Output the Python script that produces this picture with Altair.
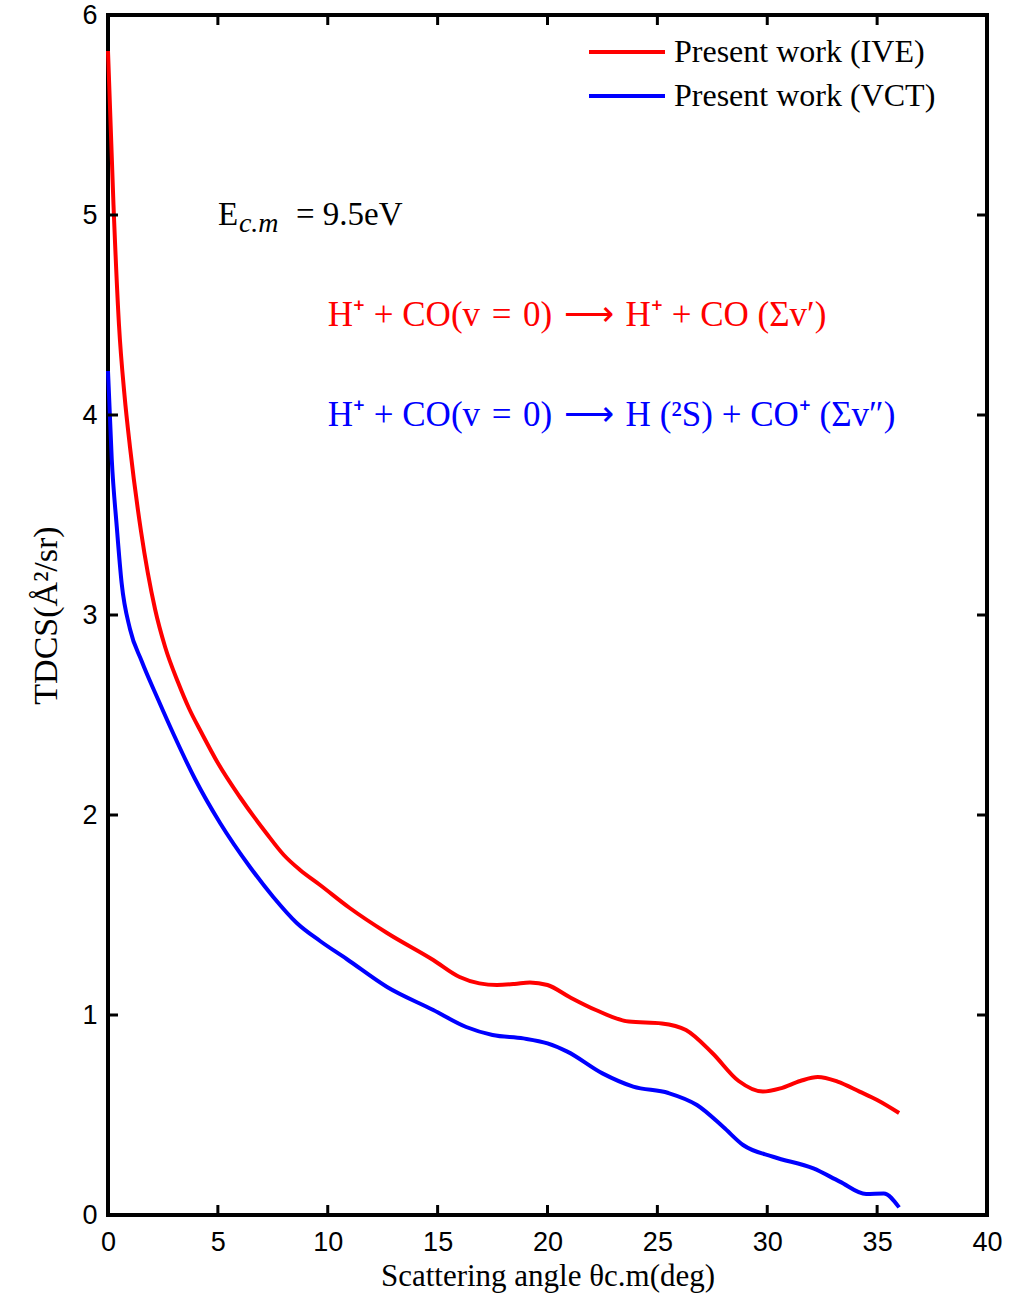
import altair as alt
import pandas as pd

# ---- data ----
ive_theta = [0, 0.25, 0.5, 0.75, 1.0, 1.5, 2.14, 2.6, 3.2, 3.7, 4.26, 5.0, 6.0, 7.2, 8.0, 8.74,
             9.65, 11.0, 12.7, 14.8, 16.0, 16.9, 17.7, 18.5, 19.2, 20.0, 21.0, 22.2, 23.7,
             25.2, 26.3, 27.5, 28.7, 29.8, 30.6, 31.5, 32.3, 33.2, 34.2, 35.0, 36.0]
ive_tdcs = [5.82, 5.05, 4.45, 4.10, 3.84, 3.42, 3.03, 2.84, 2.66, 2.53, 2.41, 2.26, 2.09, 1.91,
            1.80, 1.725, 1.65, 1.535, 1.41, 1.275, 1.19, 1.158, 1.15, 1.155, 1.163, 1.15, 1.09,
            1.025, 0.967, 0.958, 0.925, 0.81, 0.67, 0.617, 0.633, 0.67, 0.69, 0.667, 0.617,
            0.575, 0.51]

vct_theta = [0, 0.17, 0.4, 0.62, 1.0, 1.53, 2.29, 3.0, 3.96, 5.1, 6.46, 7.52, 8.59, 9.65,
             10.86, 12.7, 14.8, 16.3, 17.5, 18.9, 20.0, 20.9, 22.5, 23.9, 25.5, 26.8, 28.0,
             28.9, 30.3, 32.1, 33.3, 34.5, 35.3, 36.0]
vct_tdcs = [4.22, 3.78, 3.44, 3.16, 2.93, 2.77, 2.575, 2.40, 2.18, 1.96, 1.74, 1.59, 1.46,
            1.37, 1.28, 1.14, 1.025, 0.94, 0.90, 0.883, 0.858, 0.817, 0.708, 0.642, 0.61,
            0.55, 0.44, 0.35, 0.29, 0.233, 0.167, 0.105, 0.108, 0.038]

series_names = ["Present work (IVE)", "Present work (VCT)"]
series_colors = ["#ff0000", "#0000ff"]

x_ticks = [5, 10, 15, 20, 25, 30, 35]
y_ticks = [1, 2, 3, 4, 5]

W, H = 879, 1200
SERIF = "Liberation Serif"
SANS = "Liberation Sans"
SP = "\u2004"  # three-per-em space, to mimic TeX math spacing

df = pd.concat([
    pd.DataFrame({"theta": ive_theta, "tdcs": ive_tdcs, "series": series_names[0]}),
    pd.DataFrame({"theta": vct_theta, "tdcs": vct_tdcs, "series": series_names[1]}),
])

xscale = alt.Scale(domain=[0, 40], nice=False, zero=False)
yscale = alt.Scale(domain=[0, 6], nice=False, zero=False)

xaxis = alt.Axis(values=[0, 5, 10, 15, 20, 25, 30, 35, 40], format="d", grid=False, domain=False,
                 ticks=False, labelFont=SANS, labelFontSize=27, labelColor="black",
                 labelPadding=14, labelFlush=False,
                 title="Scattering angle θc.m(deg)", titleFont=SERIF, titleFontSize=31,
                 titleFontWeight="normal", titleColor="black", titlePadding=6)
yaxis = alt.Axis(values=[0, 1, 2, 3, 4, 5, 6], format="d", grid=False, domain=False,
                 ticks=False, labelFont=SANS, labelFontSize=27, labelColor="black",
                 labelPadding=11, labelFlush=False,
                 title="TDCS(Å²/sr)", titleFont=SERIF, titleFontSize=34,
                 titleFontWeight="normal", titleColor="black", titlePadding=18)

lines = alt.Chart(df).mark_line(strokeWidth=4, interpolate="monotone").encode(
    x=alt.X("theta:Q", scale=xscale, axis=xaxis),
    y=alt.Y("tdcs:Q", scale=yscale, axis=yaxis),
    color=alt.Color("series:N",
                    scale=alt.Scale(domain=series_names, range=series_colors),
                    legend=alt.Legend(title=None, orient="none", legendX=479, legendY=20,
                                      symbolType="stroke", symbolSize=5776,
                                      symbolStrokeWidth=4, clipHeight=34, rowPadding=10,
                                      labelFont=SERIF, labelFontSize=32, labelColor="black",
                                      labelOffset=7, padding=0, labelLimit=400)),
)

xt = pd.DataFrame({"t": x_ticks})
yt = pd.DataFrame({"t": y_ticks})
tick_bottom = alt.Chart(xt).mark_rule(color="black", strokeWidth=3).encode(
    x=alt.X("t:Q", scale=xscale), y=alt.value(H), y2=alt.value(H - 10))
tick_top = alt.Chart(xt).mark_rule(color="black", strokeWidth=3).encode(
    x=alt.X("t:Q", scale=xscale), y=alt.value(0), y2=alt.value(10))
tick_left = alt.Chart(yt).mark_rule(color="black", strokeWidth=3).encode(
    y=alt.Y("t:Q", scale=yscale), x=alt.value(0), x2=alt.value(10))
tick_right = alt.Chart(yt).mark_rule(color="black", strokeWidth=3).encode(
    y=alt.Y("t:Q", scale=yscale), x=alt.value(W), x2=alt.value(W - 10))

# annotations
energy_parts = pd.DataFrame({
    "theta": [5.0, 5.0, 5.0], "tdcs": [5.0, 5.0, 5.0],
    "txt": ["E", "c.m", "= 9.5eV"],
})
e_main = alt.Chart(energy_parts.iloc[[0]]).mark_text(
    align="left", baseline="middle", font=SERIF, fontSize=33, color="black").encode(
    x=alt.X("theta:Q", scale=xscale), y=alt.Y("tdcs:Q", scale=yscale), text="txt:N")
e_sub = alt.Chart(energy_parts.iloc[[1]]).mark_text(
    align="left", baseline="middle", font=SERIF, fontSize=28, fontStyle="italic",
    color="black", dx=21, dy=9).encode(
    x=alt.X("theta:Q", scale=xscale), y=alt.Y("tdcs:Q", scale=yscale), text="txt:N")
e_rest = alt.Chart(energy_parts.iloc[[2]]).mark_text(
    align="left", baseline="middle", font=SERIF, fontSize=33, color="black", dx=78).encode(
    x=alt.X("theta:Q", scale=xscale), y=alt.Y("tdcs:Q", scale=yscale), text="txt:N")

reactions = pd.DataFrame({
    "theta": [10.0, 10.0],
    "tdcs": [4.5, 4.0],
    "txt": [f"H⁺ + CO(v{SP}={SP}0){SP}⟶{SP}H⁺ + CO (Σv′)",
            f"H⁺ + CO(v{SP}={SP}0){SP}⟶{SP}H (²S) + CO⁺ (Σv″)"],
    "series": series_names,
})
react = alt.Chart(reactions).mark_text(
    align="left", baseline="middle", font=SERIF, fontSize=35).encode(
    x=alt.X("theta:Q", scale=xscale), y=alt.Y("tdcs:Q", scale=yscale), text="txt:N",
    color=alt.Color("series:N", scale=alt.Scale(domain=series_names, range=series_colors),
                    legend=None))

chart = alt.layer(
    lines, tick_bottom, tick_top, tick_left, tick_right, e_main, e_sub, e_rest, react
).properties(
    width=W, height=H,
    autosize=alt.AutoSizeParams(type="none"),
    padding={"left": 108, "top": 15, "right": 24, "bottom": 89},
    background="white",
).configure_view(stroke="black", strokeWidth=4)

chart.save("out.html", embed_options={"renderer": "svg", "actions": False})
